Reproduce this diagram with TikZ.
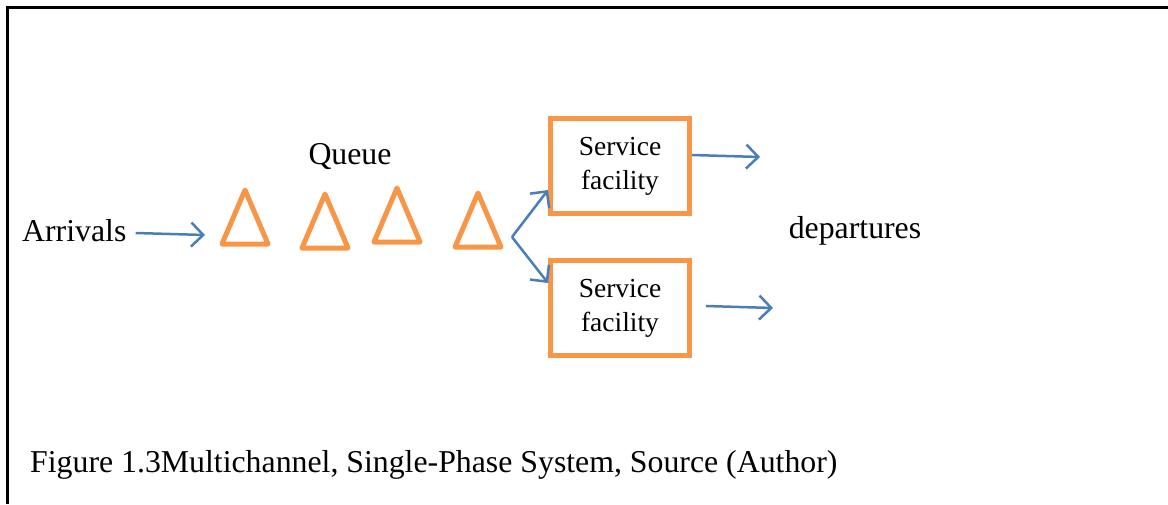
\documentclass[tikz,border=0pt]{standalone}
\usepackage{fontspec}
\setmainfont{Liberation Serif}
\usetikzlibrary{arrows.meta}
\definecolor{qorange}{HTML}{F79646}
\definecolor{qblue}{HTML}{4A7EBB}
\tikzset{
  flow/.style={draw=qblue, line width=2.5pt, -{Straight Barb[length=12pt,width=24pt,line width=2.5pt]}},
  queuetri/.style={draw=qorange, line width=5pt, line join=round},
  facility/.style={draw=qorange, line width=5pt, minimum width=139pt, minimum height=95pt,
    align=center, font=\fontsize{27.5}{34}\selectfont},
  label/.style={font=\fontsize{31.8}{36}\selectfont, inner sep=0pt}
}
\begin{document}
\begin{tikzpicture}[x=1pt,y=-1pt]
      \useasboundingbox (0,0) rectangle (1168,504);
      % frame
      \draw[line width=3pt] (7,504) -- (7,7) -- (1168,7);
      % labels
      \node[label, anchor=west] (arrivals) at (22,231) {Arrivals};
      \node[label] (queue) at (350,157) {Queue};
      \node[label] (departures) at (855,231) {departures};
      \node[label, anchor=base west] (caption) at (30,472)
        {Figure 1.3Multichannel, Single-Phase System, Source (Author)};
      % queue
      \foreach \n/\x/\y in {1/245/190, 2/325/194, 3/397/188, 4/478/193}
        \draw[queuetri] (\x,\y) coordinate (t\n) -- ++(23,54) -- ++(-46,0) -- cycle;
      % servers
      \node[facility] (s1) at (620,166) {Service\\facility};
      \node[facility] (s2) at (620,308) {Service\\facility};
      \coordinate (in) at (205,235);
      \coordinate (fork) at (512,237);
      \coordinate (out1) at (760,157);
      \coordinate (out2) at (773,308);
      \begin{scope}
        \draw[flow] ([xshift=9pt,yshift=-2pt]arrivals.east) -- (in);
        \draw[flow] (fork) -- ([yshift=-24pt]s1.west);
        \draw[flow] (fork) -- ([yshift=25pt]s2.west);
        \draw[flow] ([yshift=11pt]s1.east) -- (out1);
        \draw[flow] ([xshift=14pt,yshift=2pt]s2.east) -- (out2);
      \end{scope}
    \end{tikzpicture}
\end{document}
